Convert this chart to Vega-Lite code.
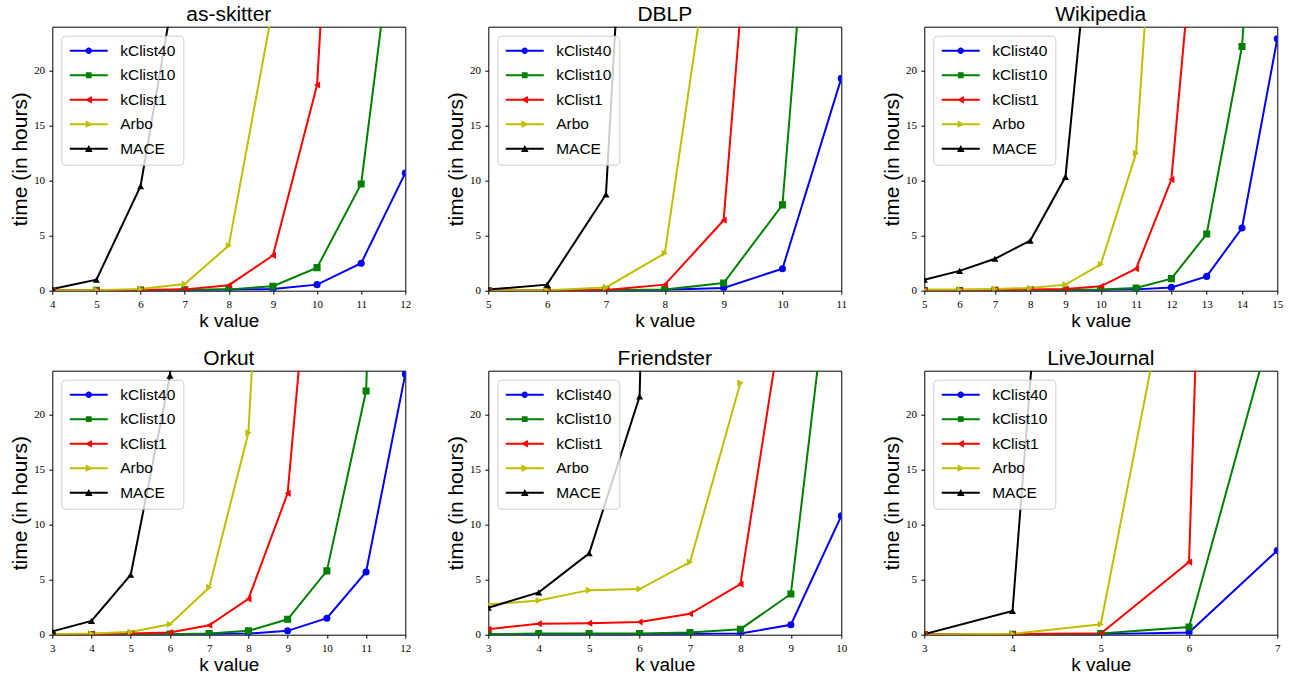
{
"$schema": "https://vega.github.io/schema/vega-lite/v6.json",
"padding": {"left": 8.3, "top": 3.7, "right": 5, "bottom": 5},
"background": "white",
"config": {
  "view": {"stroke": "black", "strokeWidth": 1},
  "axis": {"labelFont": "Liberation Serif", "labelFontSize": 11, "labelColor": "black", "titleFont": "Liberation Sans", "titleFontWeight": "normal", "titleColor": "black", "tickColor": "black", "tickSize": 3.5, "grid": false, "domain": false, "labelFlush": false, "labelOverlap": false},
  "axisX": {"titleFontSize": 19, "labelPadding": 4, "titlePadding": 2.5},
  "axisY": {"titleFontSize": 21, "labelPadding": 4.2, "titlePadding": 3},
  "title": {"font": "Liberation Sans", "fontSize": 21, "fontWeight": "normal", "color": "black", "offset": 1.5},
  "legend": {"orient": "top-left", "offset": 9, "padding": 7.3, "strokeColor": "#cccccc", "cornerRadius": 4, "fillColor": "rgba(255,255,255,0.8)", "labelFont": "Liberation Sans", "labelFontSize": 15.5, "labelColor": "black", "rowPadding": 7.5, "symbolSize": 64, "symbolStrokeWidth": 0, "labelOffset": 36.1}
},
"data": {"values": [
{"g":"as-skitter","s":"kClist40","k":4,"t":0.01},{"g":"as-skitter","s":"kClist40","k":5,"t":0.02},{"g":"as-skitter","s":"kClist40","k":6,"t":0.03},{"g":"as-skitter","s":"kClist40","k":7,"t":0.05},{"g":"as-skitter","s":"kClist40","k":8,"t":0.08},{"g":"as-skitter","s":"kClist40","k":9,"t":0.15},{"g":"as-skitter","s":"kClist40","k":10,"t":0.55},{"g":"as-skitter","s":"kClist40","k":11,"t":2.5},{"g":"as-skitter","s":"kClist40","k":12,"t":10.7},
{"g":"as-skitter","s":"kClist10","k":4,"t":0.02},{"g":"as-skitter","s":"kClist10","k":5,"t":0.03},{"g":"as-skitter","s":"kClist10","k":6,"t":0.05},{"g":"as-skitter","s":"kClist10","k":7,"t":0.08},{"g":"as-skitter","s":"kClist10","k":8,"t":0.12},{"g":"as-skitter","s":"kClist10","k":9,"t":0.4},{"g":"as-skitter","s":"kClist10","k":10,"t":2.1},{"g":"as-skitter","s":"kClist10","k":11,"t":9.7},{"g":"as-skitter","s":"kClist10","k":12,"t":41.5},
{"g":"as-skitter","s":"kClist1","k":4,"t":0.02},{"g":"as-skitter","s":"kClist1","k":5,"t":0.04},{"g":"as-skitter","s":"kClist1","k":6,"t":0.06},{"g":"as-skitter","s":"kClist1","k":7,"t":0.12},{"g":"as-skitter","s":"kClist1","k":8,"t":0.5},{"g":"as-skitter","s":"kClist1","k":9,"t":3.2},{"g":"as-skitter","s":"kClist1","k":10,"t":18.7},{"g":"as-skitter","s":"kClist1","k":11,"t":88},
{"g":"as-skitter","s":"Arbo","k":4,"t":0.03},{"g":"as-skitter","s":"Arbo","k":5,"t":0.05},{"g":"as-skitter","s":"Arbo","k":6,"t":0.15},{"g":"as-skitter","s":"Arbo","k":7,"t":0.6},{"g":"as-skitter","s":"Arbo","k":8,"t":4.1},{"g":"as-skitter","s":"Arbo","k":9,"t":25.8},
{"g":"as-skitter","s":"MACE","k":4,"t":0.15},{"g":"as-skitter","s":"MACE","k":5,"t":1.0},{"g":"as-skitter","s":"MACE","k":6,"t":9.5},{"g":"as-skitter","s":"MACE","k":7,"t":33},

{"g":"DBLP","s":"kClist40","k":5,"t":0.01},{"g":"DBLP","s":"kClist40","k":6,"t":0.02},{"g":"DBLP","s":"kClist40","k":7,"t":0.04},{"g":"DBLP","s":"kClist40","k":8,"t":0.08},{"g":"DBLP","s":"kClist40","k":9,"t":0.25},{"g":"DBLP","s":"kClist40","k":10,"t":2.0},{"g":"DBLP","s":"kClist40","k":11,"t":19.3},
{"g":"DBLP","s":"kClist10","k":5,"t":0.02},{"g":"DBLP","s":"kClist10","k":6,"t":0.03},{"g":"DBLP","s":"kClist10","k":7,"t":0.05},{"g":"DBLP","s":"kClist10","k":8,"t":0.1},{"g":"DBLP","s":"kClist10","k":9,"t":0.7},{"g":"DBLP","s":"kClist10","k":10,"t":7.8},{"g":"DBLP","s":"kClist10","k":11,"t":73.7},
{"g":"DBLP","s":"kClist1","k":5,"t":0.02},{"g":"DBLP","s":"kClist1","k":6,"t":0.04},{"g":"DBLP","s":"kClist1","k":7,"t":0.06},{"g":"DBLP","s":"kClist1","k":8,"t":0.55},{"g":"DBLP","s":"kClist1","k":9,"t":6.4},{"g":"DBLP","s":"kClist1","k":10,"t":72},
{"g":"DBLP","s":"Arbo","k":5,"t":0.03},{"g":"DBLP","s":"Arbo","k":6,"t":0.05},{"g":"DBLP","s":"Arbo","k":7,"t":0.3},{"g":"DBLP","s":"Arbo","k":8,"t":3.4},{"g":"DBLP","s":"Arbo","k":9,"t":39.8},
{"g":"DBLP","s":"MACE","k":5,"t":0.1},{"g":"DBLP","s":"MACE","k":6,"t":0.55},{"g":"DBLP","s":"MACE","k":7,"t":8.75},{"g":"DBLP","s":"MACE","k":8,"t":104},

{"g":"Wikipedia","s":"kClist40","k":5,"t":0.01},{"g":"Wikipedia","s":"kClist40","k":6,"t":0.01},{"g":"Wikipedia","s":"kClist40","k":7,"t":0.02},{"g":"Wikipedia","s":"kClist40","k":8,"t":0.03},{"g":"Wikipedia","s":"kClist40","k":9,"t":0.04},{"g":"Wikipedia","s":"kClist40","k":10,"t":0.06},{"g":"Wikipedia","s":"kClist40","k":11,"t":0.12},{"g":"Wikipedia","s":"kClist40","k":12,"t":0.3},{"g":"Wikipedia","s":"kClist40","k":13,"t":1.3},{"g":"Wikipedia","s":"kClist40","k":14,"t":5.7},{"g":"Wikipedia","s":"kClist40","k":15,"t":22.9},
{"g":"Wikipedia","s":"kClist10","k":5,"t":0.02},{"g":"Wikipedia","s":"kClist10","k":6,"t":0.02},{"g":"Wikipedia","s":"kClist10","k":7,"t":0.03},{"g":"Wikipedia","s":"kClist10","k":8,"t":0.04},{"g":"Wikipedia","s":"kClist10","k":9,"t":0.06},{"g":"Wikipedia","s":"kClist10","k":10,"t":0.1},{"g":"Wikipedia","s":"kClist10","k":11,"t":0.25},{"g":"Wikipedia","s":"kClist10","k":12,"t":1.1},{"g":"Wikipedia","s":"kClist10","k":13,"t":5.15},{"g":"Wikipedia","s":"kClist10","k":14,"t":22.2},{"g":"Wikipedia","s":"kClist10","k":15,"t":67},
{"g":"Wikipedia","s":"kClist1","k":5,"t":0.05},{"g":"Wikipedia","s":"kClist1","k":6,"t":0.06},{"g":"Wikipedia","s":"kClist1","k":7,"t":0.08},{"g":"Wikipedia","s":"kClist1","k":8,"t":0.1},{"g":"Wikipedia","s":"kClist1","k":9,"t":0.15},{"g":"Wikipedia","s":"kClist1","k":10,"t":0.4},{"g":"Wikipedia","s":"kClist1","k":11,"t":2.0},{"g":"Wikipedia","s":"kClist1","k":12,"t":10.1},{"g":"Wikipedia","s":"kClist1","k":13,"t":45.7},
{"g":"Wikipedia","s":"Arbo","k":5,"t":0.1},{"g":"Wikipedia","s":"Arbo","k":6,"t":0.1},{"g":"Wikipedia","s":"Arbo","k":7,"t":0.15},{"g":"Wikipedia","s":"Arbo","k":8,"t":0.25},{"g":"Wikipedia","s":"Arbo","k":9,"t":0.55},{"g":"Wikipedia","s":"Arbo","k":10,"t":2.4},{"g":"Wikipedia","s":"Arbo","k":11,"t":12.5},{"g":"Wikipedia","s":"Arbo","k":12,"t":60},
{"g":"Wikipedia","s":"MACE","k":5,"t":1.0},{"g":"Wikipedia","s":"MACE","k":6,"t":1.8},{"g":"Wikipedia","s":"MACE","k":7,"t":2.9},{"g":"Wikipedia","s":"MACE","k":8,"t":4.55},{"g":"Wikipedia","s":"MACE","k":9,"t":10.35},{"g":"Wikipedia","s":"MACE","k":10,"t":42.9},

{"g":"Orkut","s":"kClist40","k":3,"t":0.01},{"g":"Orkut","s":"kClist40","k":4,"t":0.01},{"g":"Orkut","s":"kClist40","k":5,"t":0.02},{"g":"Orkut","s":"kClist40","k":6,"t":0.03},{"g":"Orkut","s":"kClist40","k":7,"t":0.05},{"g":"Orkut","s":"kClist40","k":8,"t":0.1},{"g":"Orkut","s":"kClist40","k":9,"t":0.35},{"g":"Orkut","s":"kClist40","k":10,"t":1.5},{"g":"Orkut","s":"kClist40","k":11,"t":5.7},{"g":"Orkut","s":"kClist40","k":12,"t":23.7},
{"g":"Orkut","s":"kClist10","k":3,"t":0.01},{"g":"Orkut","s":"kClist10","k":4,"t":0.02},{"g":"Orkut","s":"kClist10","k":5,"t":0.03},{"g":"Orkut","s":"kClist10","k":6,"t":0.05},{"g":"Orkut","s":"kClist10","k":7,"t":0.1},{"g":"Orkut","s":"kClist10","k":8,"t":0.35},{"g":"Orkut","s":"kClist10","k":9,"t":1.4},{"g":"Orkut","s":"kClist10","k":10,"t":5.8},{"g":"Orkut","s":"kClist10","k":11,"t":22.15},{"g":"Orkut","s":"kClist10","k":12,"t":120},
{"g":"Orkut","s":"kClist1","k":3,"t":0.02},{"g":"Orkut","s":"kClist1","k":4,"t":0.05},{"g":"Orkut","s":"kClist1","k":5,"t":0.1},{"g":"Orkut","s":"kClist1","k":6,"t":0.2},{"g":"Orkut","s":"kClist1","k":7,"t":0.85},{"g":"Orkut","s":"kClist1","k":8,"t":3.25},{"g":"Orkut","s":"kClist1","k":9,"t":12.85},{"g":"Orkut","s":"kClist1","k":10,"t":52.5},
{"g":"Orkut","s":"Arbo","k":3,"t":0.05},{"g":"Orkut","s":"Arbo","k":4,"t":0.1},{"g":"Orkut","s":"Arbo","k":5,"t":0.25},{"g":"Orkut","s":"Arbo","k":6,"t":0.95},{"g":"Orkut","s":"Arbo","k":7,"t":4.3},{"g":"Orkut","s":"Arbo","k":8,"t":18.35},{"g":"Orkut","s":"Arbo","k":9,"t":84},
{"g":"Orkut","s":"MACE","k":3,"t":0.3},{"g":"Orkut","s":"MACE","k":4,"t":1.25},{"g":"Orkut","s":"MACE","k":5,"t":5.45},{"g":"Orkut","s":"MACE","k":6,"t":23.55},{"g":"Orkut","s":"MACE","k":7,"t":80},

{"g":"Friendster","s":"kClist40","k":3,"t":0.02},{"g":"Friendster","s":"kClist40","k":4,"t":0.03},{"g":"Friendster","s":"kClist40","k":5,"t":0.03},{"g":"Friendster","s":"kClist40","k":6,"t":0.04},{"g":"Friendster","s":"kClist40","k":7,"t":0.06},{"g":"Friendster","s":"kClist40","k":8,"t":0.1},{"g":"Friendster","s":"kClist40","k":9,"t":0.9},{"g":"Friendster","s":"kClist40","k":10,"t":10.8},
{"g":"Friendster","s":"kClist10","k":3,"t":0.05},{"g":"Friendster","s":"kClist10","k":4,"t":0.1},{"g":"Friendster","s":"kClist10","k":5,"t":0.1},{"g":"Friendster","s":"kClist10","k":6,"t":0.1},{"g":"Friendster","s":"kClist10","k":7,"t":0.2},{"g":"Friendster","s":"kClist10","k":8,"t":0.5},{"g":"Friendster","s":"kClist10","k":9,"t":3.7},{"g":"Friendster","s":"kClist10","k":10,"t":42.4},
{"g":"Friendster","s":"kClist1","k":3,"t":0.5},{"g":"Friendster","s":"kClist1","k":4,"t":1.0},{"g":"Friendster","s":"kClist1","k":5,"t":1.05},{"g":"Friendster","s":"kClist1","k":6,"t":1.15},{"g":"Friendster","s":"kClist1","k":7,"t":1.9},{"g":"Friendster","s":"kClist1","k":8,"t":4.6},{"g":"Friendster","s":"kClist1","k":9,"t":34},
{"g":"Friendster","s":"Arbo","k":3,"t":2.75},{"g":"Friendster","s":"Arbo","k":4,"t":3.1},{"g":"Friendster","s":"Arbo","k":5,"t":4.05},{"g":"Friendster","s":"Arbo","k":6,"t":4.15},{"g":"Friendster","s":"Arbo","k":7,"t":6.6},{"g":"Friendster","s":"Arbo","k":8,"t":22.9},
{"g":"Friendster","s":"MACE","k":3,"t":2.45},{"g":"Friendster","s":"MACE","k":4,"t":3.85},{"g":"Friendster","s":"MACE","k":5,"t":7.4},{"g":"Friendster","s":"MACE","k":6,"t":21.65},{"g":"Friendster","s":"MACE","k":7,"t":200},

{"g":"LiveJournal","s":"kClist40","k":3,"t":0.01},{"g":"LiveJournal","s":"kClist40","k":4,"t":0.02},{"g":"LiveJournal","s":"kClist40","k":5,"t":0.05},{"g":"LiveJournal","s":"kClist40","k":6,"t":0.2},{"g":"LiveJournal","s":"kClist40","k":7,"t":7.65},
{"g":"LiveJournal","s":"kClist10","k":3,"t":0.01},{"g":"LiveJournal","s":"kClist10","k":4,"t":0.03},{"g":"LiveJournal","s":"kClist10","k":5,"t":0.1},{"g":"LiveJournal","s":"kClist10","k":6,"t":0.7},{"g":"LiveJournal","s":"kClist10","k":7,"t":29.8},
{"g":"LiveJournal","s":"kClist1","k":3,"t":0.02},{"g":"LiveJournal","s":"kClist1","k":4,"t":0.05},{"g":"LiveJournal","s":"kClist1","k":5,"t":0.1},{"g":"LiveJournal","s":"kClist1","k":6,"t":6.6},{"g":"LiveJournal","s":"kClist1","k":7,"t":255},
{"g":"LiveJournal","s":"Arbo","k":3,"t":0.02},{"g":"LiveJournal","s":"Arbo","k":4,"t":0.08},{"g":"LiveJournal","s":"Arbo","k":5,"t":0.95},{"g":"LiveJournal","s":"Arbo","k":6,"t":42},
{"g":"LiveJournal","s":"MACE","k":3,"t":0.05},{"g":"LiveJournal","s":"MACE","k":4,"t":2.15},{"g":"LiveJournal","s":"MACE","k":5,"t":106}
]},
"columns": 3,
"spacing": {"row": 80, "column": 83},
"bounds": "flush",
"resolve": {"scale": {"x": "independent", "y": "independent", "color": "independent"}, "legend": {"color": "independent"}},
"concat": [
{"title": "as-skitter", "width": 353, "height": 264, "transform": [{"filter": "datum.g === 'as-skitter'"}],
 "encoding": {
  "x": {"field": "k", "type": "quantitative", "scale": {"domain": [4, 12], "nice": false, "zero": false}, "axis": {"title": "k value", "tickMinStep": 1, "format": "d"}},
  "y": {"field": "t", "type": "quantitative", "scale": {"domain": [0, 24], "nice": false}, "axis": {"title": "time (in hours)", "values": [0, 5, 10, 15, 20]}},
  "color": {"field": "s", "type": "nominal", "scale": {"domain": ["kClist40", "kClist10", "kClist1", "Arbo", "MACE"], "range": ["#0000ff", "#008000", "#ff0000", "#bfbf00", "#000000"]},
   "legend": {"title": null, "encode": {"symbols": {"update": {
    "shape": {"signal": "datum.value==='kClist40'?'M-1.65,-0.25H7.85V0.25H-1.65ZM3.9,0A0.8,0.8 0 1,1 2.3,0A0.8,0.8 0 1,1 3.9,0Z':datum.value==='kClist10'?'M-1.65,-0.25H7.85V0.25H-1.65ZM2.38,-0.72H3.82V0.72H2.38Z':datum.value==='kClist1'?'M-1.65,-0.25H7.85V0.25H-1.65ZM2.1,0L3.9,-0.95L3.9,0.95Z':datum.value==='Arbo'?'M-1.65,-0.25H7.85V0.25H-1.65ZM4.1,0L2.3,0.95L2.3,-0.95Z':'M-1.65,-0.25H7.85V0.25H-1.65ZM3.1,-0.95L4.05,0.8L2.15,0.8Z'"},
    "opacity": {"value": 1}}}}}}
 },
 "layer": [
  {"mark": {"type": "line", "strokeWidth": 2, "clip": true}},
  {"mark": {"type": "point", "filled": true, "opacity": 1, "size": 50, "clip": true, "shape": {"expr": "datum.s==='kClist40'?'circle':datum.s==='kClist10'?'square':datum.s==='kClist1'?'triangle-left':datum.s==='Arbo'?'triangle-right':'triangle-up'"}}}
 ]},
{"title": "DBLP", "width": 353, "height": 264, "transform": [{"filter": "datum.g === 'DBLP'"}],
 "encoding": {
  "x": {"field": "k", "type": "quantitative", "scale": {"domain": [5, 11], "nice": false, "zero": false}, "axis": {"title": "k value", "tickMinStep": 1, "format": "d"}},
  "y": {"field": "t", "type": "quantitative", "scale": {"domain": [0, 24], "nice": false}, "axis": {"title": "time (in hours)", "values": [0, 5, 10, 15, 20]}},
  "color": {"field": "s", "type": "nominal", "scale": {"domain": ["kClist40", "kClist10", "kClist1", "Arbo", "MACE"], "range": ["#0000ff", "#008000", "#ff0000", "#bfbf00", "#000000"]},
   "legend": {"title": null, "encode": {"symbols": {"update": {
    "shape": {"signal": "datum.value==='kClist40'?'M-1.65,-0.25H7.85V0.25H-1.65ZM3.9,0A0.8,0.8 0 1,1 2.3,0A0.8,0.8 0 1,1 3.9,0Z':datum.value==='kClist10'?'M-1.65,-0.25H7.85V0.25H-1.65ZM2.38,-0.72H3.82V0.72H2.38Z':datum.value==='kClist1'?'M-1.65,-0.25H7.85V0.25H-1.65ZM2.1,0L3.9,-0.95L3.9,0.95Z':datum.value==='Arbo'?'M-1.65,-0.25H7.85V0.25H-1.65ZM4.1,0L2.3,0.95L2.3,-0.95Z':'M-1.65,-0.25H7.85V0.25H-1.65ZM3.1,-0.95L4.05,0.8L2.15,0.8Z'"},
    "opacity": {"value": 1}}}}}}
 },
 "layer": [
  {"mark": {"type": "line", "strokeWidth": 2, "clip": true}},
  {"mark": {"type": "point", "filled": true, "opacity": 1, "size": 50, "clip": true, "shape": {"expr": "datum.s==='kClist40'?'circle':datum.s==='kClist10'?'square':datum.s==='kClist1'?'triangle-left':datum.s==='Arbo'?'triangle-right':'triangle-up'"}}}
 ]},
{"title": "Wikipedia", "width": 353, "height": 264, "transform": [{"filter": "datum.g === 'Wikipedia'"}],
 "encoding": {
  "x": {"field": "k", "type": "quantitative", "scale": {"domain": [5, 15], "nice": false, "zero": false}, "axis": {"title": "k value", "tickMinStep": 1, "format": "d"}},
  "y": {"field": "t", "type": "quantitative", "scale": {"domain": [0, 24], "nice": false}, "axis": {"title": "time (in hours)", "values": [0, 5, 10, 15, 20]}},
  "color": {"field": "s", "type": "nominal", "scale": {"domain": ["kClist40", "kClist10", "kClist1", "Arbo", "MACE"], "range": ["#0000ff", "#008000", "#ff0000", "#bfbf00", "#000000"]},
   "legend": {"title": null, "encode": {"symbols": {"update": {
    "shape": {"signal": "datum.value==='kClist40'?'M-1.65,-0.25H7.85V0.25H-1.65ZM3.9,0A0.8,0.8 0 1,1 2.3,0A0.8,0.8 0 1,1 3.9,0Z':datum.value==='kClist10'?'M-1.65,-0.25H7.85V0.25H-1.65ZM2.38,-0.72H3.82V0.72H2.38Z':datum.value==='kClist1'?'M-1.65,-0.25H7.85V0.25H-1.65ZM2.1,0L3.9,-0.95L3.9,0.95Z':datum.value==='Arbo'?'M-1.65,-0.25H7.85V0.25H-1.65ZM4.1,0L2.3,0.95L2.3,-0.95Z':'M-1.65,-0.25H7.85V0.25H-1.65ZM3.1,-0.95L4.05,0.8L2.15,0.8Z'"},
    "opacity": {"value": 1}}}}}}
 },
 "layer": [
  {"mark": {"type": "line", "strokeWidth": 2, "clip": true}},
  {"mark": {"type": "point", "filled": true, "opacity": 1, "size": 50, "clip": true, "shape": {"expr": "datum.s==='kClist40'?'circle':datum.s==='kClist10'?'square':datum.s==='kClist1'?'triangle-left':datum.s==='Arbo'?'triangle-right':'triangle-up'"}}}
 ]},
{"title": "Orkut", "width": 353, "height": 264, "transform": [{"filter": "datum.g === 'Orkut'"}],
 "encoding": {
  "x": {"field": "k", "type": "quantitative", "scale": {"domain": [3, 12], "nice": false, "zero": false}, "axis": {"title": "k value", "tickMinStep": 1, "format": "d"}},
  "y": {"field": "t", "type": "quantitative", "scale": {"domain": [0, 24], "nice": false}, "axis": {"title": "time (in hours)", "values": [0, 5, 10, 15, 20]}},
  "color": {"field": "s", "type": "nominal", "scale": {"domain": ["kClist40", "kClist10", "kClist1", "Arbo", "MACE"], "range": ["#0000ff", "#008000", "#ff0000", "#bfbf00", "#000000"]},
   "legend": {"title": null, "encode": {"symbols": {"update": {
    "shape": {"signal": "datum.value==='kClist40'?'M-1.65,-0.25H7.85V0.25H-1.65ZM3.9,0A0.8,0.8 0 1,1 2.3,0A0.8,0.8 0 1,1 3.9,0Z':datum.value==='kClist10'?'M-1.65,-0.25H7.85V0.25H-1.65ZM2.38,-0.72H3.82V0.72H2.38Z':datum.value==='kClist1'?'M-1.65,-0.25H7.85V0.25H-1.65ZM2.1,0L3.9,-0.95L3.9,0.95Z':datum.value==='Arbo'?'M-1.65,-0.25H7.85V0.25H-1.65ZM4.1,0L2.3,0.95L2.3,-0.95Z':'M-1.65,-0.25H7.85V0.25H-1.65ZM3.1,-0.95L4.05,0.8L2.15,0.8Z'"},
    "opacity": {"value": 1}}}}}}
 },
 "layer": [
  {"mark": {"type": "line", "strokeWidth": 2, "clip": true}},
  {"mark": {"type": "point", "filled": true, "opacity": 1, "size": 50, "clip": true, "shape": {"expr": "datum.s==='kClist40'?'circle':datum.s==='kClist10'?'square':datum.s==='kClist1'?'triangle-left':datum.s==='Arbo'?'triangle-right':'triangle-up'"}}}
 ]},
{"title": "Friendster", "width": 353, "height": 264, "transform": [{"filter": "datum.g === 'Friendster'"}],
 "encoding": {
  "x": {"field": "k", "type": "quantitative", "scale": {"domain": [3, 10], "nice": false, "zero": false}, "axis": {"title": "k value", "tickMinStep": 1, "format": "d"}},
  "y": {"field": "t", "type": "quantitative", "scale": {"domain": [0, 24], "nice": false}, "axis": {"title": "time (in hours)", "values": [0, 5, 10, 15, 20]}},
  "color": {"field": "s", "type": "nominal", "scale": {"domain": ["kClist40", "kClist10", "kClist1", "Arbo", "MACE"], "range": ["#0000ff", "#008000", "#ff0000", "#bfbf00", "#000000"]},
   "legend": {"title": null, "encode": {"symbols": {"update": {
    "shape": {"signal": "datum.value==='kClist40'?'M-1.65,-0.25H7.85V0.25H-1.65ZM3.9,0A0.8,0.8 0 1,1 2.3,0A0.8,0.8 0 1,1 3.9,0Z':datum.value==='kClist10'?'M-1.65,-0.25H7.85V0.25H-1.65ZM2.38,-0.72H3.82V0.72H2.38Z':datum.value==='kClist1'?'M-1.65,-0.25H7.85V0.25H-1.65ZM2.1,0L3.9,-0.95L3.9,0.95Z':datum.value==='Arbo'?'M-1.65,-0.25H7.85V0.25H-1.65ZM4.1,0L2.3,0.95L2.3,-0.95Z':'M-1.65,-0.25H7.85V0.25H-1.65ZM3.1,-0.95L4.05,0.8L2.15,0.8Z'"},
    "opacity": {"value": 1}}}}}}
 },
 "layer": [
  {"mark": {"type": "line", "strokeWidth": 2, "clip": true}},
  {"mark": {"type": "point", "filled": true, "opacity": 1, "size": 50, "clip": true, "shape": {"expr": "datum.s==='kClist40'?'circle':datum.s==='kClist10'?'square':datum.s==='kClist1'?'triangle-left':datum.s==='Arbo'?'triangle-right':'triangle-up'"}}}
 ]},
{"title": "LiveJournal", "width": 353, "height": 264, "transform": [{"filter": "datum.g === 'LiveJournal'"}],
 "encoding": {
  "x": {"field": "k", "type": "quantitative", "scale": {"domain": [3, 7], "nice": false, "zero": false}, "axis": {"title": "k value", "tickMinStep": 1, "format": "d"}},
  "y": {"field": "t", "type": "quantitative", "scale": {"domain": [0, 24], "nice": false}, "axis": {"title": "time (in hours)", "values": [0, 5, 10, 15, 20]}},
  "color": {"field": "s", "type": "nominal", "scale": {"domain": ["kClist40", "kClist10", "kClist1", "Arbo", "MACE"], "range": ["#0000ff", "#008000", "#ff0000", "#bfbf00", "#000000"]},
   "legend": {"title": null, "encode": {"symbols": {"update": {
    "shape": {"signal": "datum.value==='kClist40'?'M-1.65,-0.25H7.85V0.25H-1.65ZM3.9,0A0.8,0.8 0 1,1 2.3,0A0.8,0.8 0 1,1 3.9,0Z':datum.value==='kClist10'?'M-1.65,-0.25H7.85V0.25H-1.65ZM2.38,-0.72H3.82V0.72H2.38Z':datum.value==='kClist1'?'M-1.65,-0.25H7.85V0.25H-1.65ZM2.1,0L3.9,-0.95L3.9,0.95Z':datum.value==='Arbo'?'M-1.65,-0.25H7.85V0.25H-1.65ZM4.1,0L2.3,0.95L2.3,-0.95Z':'M-1.65,-0.25H7.85V0.25H-1.65ZM3.1,-0.95L4.05,0.8L2.15,0.8Z'"},
    "opacity": {"value": 1}}}}}}
 },
 "layer": [
  {"mark": {"type": "line", "strokeWidth": 2, "clip": true}},
  {"mark": {"type": "point", "filled": true, "opacity": 1, "size": 50, "clip": true, "shape": {"expr": "datum.s==='kClist40'?'circle':datum.s==='kClist10'?'square':datum.s==='kClist1'?'triangle-left':datum.s==='Arbo'?'triangle-right':'triangle-up'"}}}
 ]}
]
}
